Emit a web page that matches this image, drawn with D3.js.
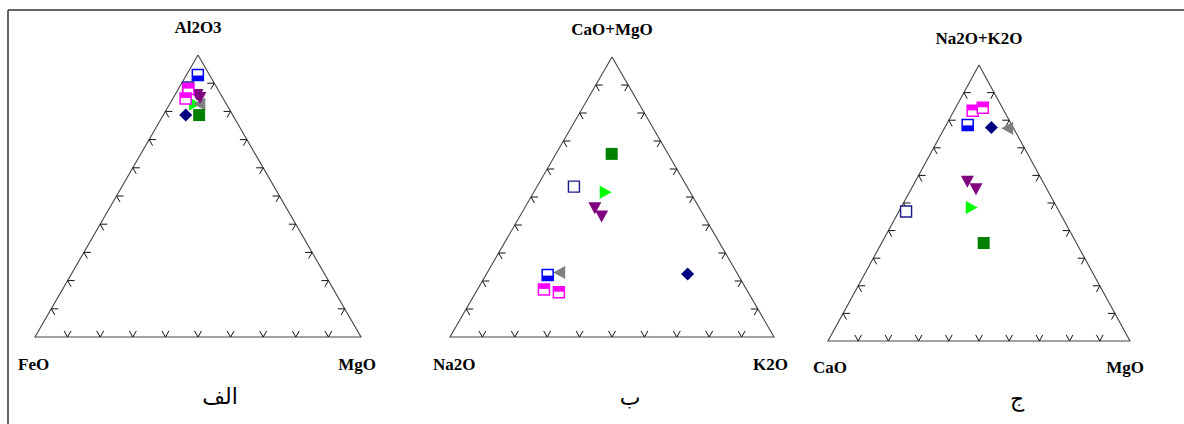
<!DOCTYPE html>
<html>
<head>
<meta charset="utf-8">
<script src="https://cdn.jsdelivr.net/npm/d3@7"></script>
<style>
    body { margin: 0; background: #fff; }
    svg { display: block; }
    .lbl { font-family: "Liberation Serif", "Times New Roman", serif; font-weight: bold; font-size: 17px; fill: #000; }
    .cap { font-family: "DejaVu Sans", sans-serif; font-size: 22px; fill: #000; }
</style>
</head>
<body>
<svg id="chart" width="1184" height="424"></svg>
<script>
// marker series, in drawing order (later ones sit on top)
const seriesKeys = ["navyOpen", "navyDiamond", "limeTri", "grayTri", "purpleTri", "greenSquare", "magentaHalf", "blueHalf"];

// each point: [series, top %, left %, right %]
const axesA = ["Al2O3", "FeO", "MgO"];
const pointsA = [
    ["blueHalf", 92.9, 3.6, 3.5],
    ["magentaHalf", 87.9, 9.0, 3.1],
    ["magentaHalf", 84.6, 11.5, 3.9],
    ["navyOpen", 88.5, 8.8, 2.7],
    ["purpleTri", 85.8, 7.4, 6.8],
    ["purpleTri", 84.8, 7.0, 8.2],
    ["grayTri", 82.6, 8.3, 9.1],
    ["limeTri", 82.6, 9.6, 7.8],
    ["greenSquare", 78.7, 10.3, 11.0],
    ["navyDiamond", 78.7, 14.4, 6.9]
];

const axesB = ["CaO+MgO", "Na2O", "K2O"];
const pointsB = [
    ["greenSquare", 65.4, 17.4, 17.2],
    ["navyOpen", 53.7, 34.9, 11.4],
    ["limeTri", 51.7, 26.1, 22.2],
    ["purpleTri", 46.0, 32.3, 21.7],
    ["purpleTri", 43.0, 31.7, 25.3],
    ["blueHalf", 22.1, 58.8, 19.1],
    ["grayTri", 23.0, 54.8, 22.2],
    ["magentaHalf", 17.0, 62.5, 20.5],
    ["magentaHalf", 16.0, 58.4, 25.6],
    ["navyDiamond", 22.5, 15.4, 62.1]
];

const axesC = ["Na2O+K2O", "CaO", "MgO"];
const pointsC = [
    ["magentaHalf", 83.4, 10.4, 6.2],
    ["magentaHalf", 84.5, 6.5, 9.0],
    ["blueHalf", 78.3, 14.6, 7.1],
    ["navyDiamond", 77.4, 7.2, 15.4],
    ["grayTri", 77.1, 2.1, 20.8],
    ["purpleTri", 57.7, 25.0, 17.3],
    ["purpleTri", 55.0, 23.5, 21.5],
    ["limeTri", 48.4, 28.2, 23.4],
    ["navyOpen", 46.9, 50.7, 2.4],
    ["greenSquare", 35.5, 30.7, 33.8]
];

const captions = ["الف", "ب", "ج"];
const tickValues = [10, 20, 30, 40, 50, 60, 70, 80, 90];

// layout of the three triangles
const panels = [
    { axes: axesA, points: pointsA, caption: captions[0], apexY: 55, baseY: 337, left: 35, right: 361,
      titleY: 33, cornerY: 370, leftLblX: 18, rightLblX: 376, capX: 220, capY: 404 },
    { axes: axesB, points: pointsB, caption: captions[1], apexY: 57, baseY: 337, left: 450, right: 774,
      titleY: 35, cornerY: 370, leftLblX: 433, rightLblX: 788, capX: 630, capY: 405 },
    { axes: axesC, points: pointsC, caption: captions[2], apexY: 65, baseY: 341, left: 828, right: 1130,
      titleY: 44, cornerY: 373, leftLblX: 813, rightLblX: 1144, capX: 1017, capY: 406 }
];

// custom marker shapes, size = width in px, centred on their box
const triShape = angle => ({
    draw(ctx, s) {
        const h = s / 2;
        const pts = [[-h, -h * 0.92], [h, -h * 0.92], [0, h * 0.92]].map(([x, y]) => {
            const a = angle * Math.PI / 180;
            return [x * Math.cos(a) - y * Math.sin(a), x * Math.sin(a) + y * Math.cos(a)];
        });
        ctx.moveTo(pts[0][0], pts[0][1]);
        ctx.lineTo(pts[1][0], pts[1][1]);
        ctx.lineTo(pts[2][0], pts[2][1]);
        ctx.closePath();
    }
});
const diamondShape = {
    draw(ctx, s) {
        const h = s / 2;
        ctx.moveTo(0, -h); ctx.lineTo(h, 0); ctx.lineTo(0, h); ctx.lineTo(-h, 0); ctx.closePath();
    }
};
const squareShape = {
    draw(ctx, s) {
        const h = s / 2;
        ctx.rect(-h, -h, s, s);
    }
};

const svg = d3.select("#chart");

// frame: top and left edge only
svg.append("line").attr("x1", 8).attr("y1", 10).attr("x2", 1184).attr("y2", 10)
    .attr("stroke", "#333").attr("stroke-width", 1.5);
svg.append("line").attr("x1", 8).attr("y1", 10).attr("x2", 8).attr("y2", 424)
    .attr("stroke", "#333").attr("stroke-width", 1.5);

panels.forEach(p => {
    const x = d3.scaleLinear().domain([0, 100]).range([p.left, p.right]);
    const y = d3.scaleLinear().domain([0, 100]).range([p.baseY, p.apexY]);
    // ternary -> screen
    const px = (t, l, r) => x(r + t / 2);
    const py = (t, l, r) => y(t);

    const g = svg.append("g");

    const A = [px(100, 0, 0), py(100, 0, 0)];
    const L = [px(0, 100, 0), py(0, 100, 0)];
    const R = [px(0, 0, 100), py(0, 0, 100)];

    g.append("path")
        .attr("d", d3.line()([A, L, R, A]))
        .attr("fill", "none")
        .attr("stroke", "#444")
        .attr("stroke-width", 1.1);

    // tick chevrons along each edge, pointing along the grid directions
    const unit = (a, b) => {
        const dx = b[0] - a[0], dy = b[1] - a[1], n = Math.hypot(dx, dy);
        return [dx / n, dy / n];
    };
    const uL = unit(L, A);   // up-right
    const uR = unit(R, A);   // up-left
    const len = 7;
    const ticks = [];
    tickValues.forEach(v => {
        // bottom edge
        const b = [px(0, 100 - v, v), py(0, 100 - v, v)];
        ticks.push([b, uL], [b, uR]);
        // left edge
        const l = [px(v, 100 - v, 0), py(v, 100 - v, 0)];
        ticks.push([l, [1, 0]], [l, [-uR[0], -uR[1]]]);
        // right edge
        const r = [px(v, 0, 100 - v), py(v, 0, 100 - v)];
        ticks.push([r, [-1, 0]], [r, [-uL[0], -uL[1]]]);
    });
    g.selectAll("line.tick")
        .data(ticks)
        .enter()
        .append("line")
            .attr("class", "tick")
            .attr("x1", d => d[0][0])
            .attr("y1", d => d[0][1])
            .attr("x2", d => d[0][0] + d[1][0] * len)
            .attr("y2", d => d[0][1] + d[1][1] * len)
            .attr("stroke", "#111")
            .attr("stroke-width", 1);

    // labels
    g.append("text").attr("class", "lbl")
        .attr("x", A[0]).attr("y", p.titleY)
        .attr("text-anchor", "middle").text(p.axes[0]);
    g.append("text").attr("class", "lbl")
        .attr("x", p.leftLblX).attr("y", p.cornerY)
        .attr("text-anchor", "start").text(p.axes[1]);
    g.append("text").attr("class", "lbl")
        .attr("x", p.rightLblX).attr("y", p.cornerY)
        .attr("text-anchor", "end").text(p.axes[2]);
    g.append("text").attr("class", "cap")
        .attr("x", p.capX).attr("y", p.capY)
        .attr("text-anchor", "middle").text(p.caption);

    // points, sorted by series order
    const pts = p.points
        .map((d, i) => ({ key: d[0], t: d[1], l: d[2], r: d[3], i: i }))
        .sort((a, b) => d3.ascending(seriesKeys.indexOf(a.key), seriesKeys.indexOf(b.key)) || d3.ascending(a.i, b.i));

    const marks = g.selectAll("g.mark")
        .data(pts)
        .enter()
        .append("g")
            .attr("class", "mark")
            .attr("transform", d => `translate(${px(d.t, d.l, d.r)},${py(d.t, d.l, d.r)})`);

    marks.each(function(d) {
        const m = d3.select(this);
        const sym = (type, size) => d3.symbol().type(type).size(size)();
        if (d.key === "blueHalf" || d.key === "magentaHalf") {
            const c = d.key === "blueHalf" ? "#0000ff" : "#ff00ff";
            m.append("path").attr("d", sym(squareShape, 11))
                .attr("fill", "#fff").attr("stroke", c).attr("stroke-width", 1.5);
            m.append("rect")
                .attr("x", -5.5).attr("width", 11)
                .attr("y", d.key === "blueHalf" ? 0.5 : -5.5)
                .attr("height", 5)
                .attr("fill", c);
        } else if (d.key === "navyOpen") {
            m.append("path").attr("d", sym(squareShape, 11))
                .attr("fill", "#fff").attr("stroke", "#1a1a8c").attr("stroke-width", 1.4);
        } else if (d.key === "greenSquare") {
            m.append("path").attr("d", sym(squareShape, 12)).attr("fill", "#008000");
        } else if (d.key === "navyDiamond") {
            m.append("path").attr("d", sym(diamondShape, 13)).attr("fill", "#000080");
        } else if (d.key === "purpleTri") {
            m.append("path").attr("d", sym(triShape(0), 13)).attr("fill", "#800080");
        } else if (d.key === "limeTri") {
            m.append("path").attr("d", sym(triShape(-90), 13)).attr("fill", "#00ff00");
        } else if (d.key === "grayTri") {
            m.append("path").attr("d", sym(triShape(90), 13)).attr("fill", "#808080");
        }
    });
});
</script>
</body>
</html>
